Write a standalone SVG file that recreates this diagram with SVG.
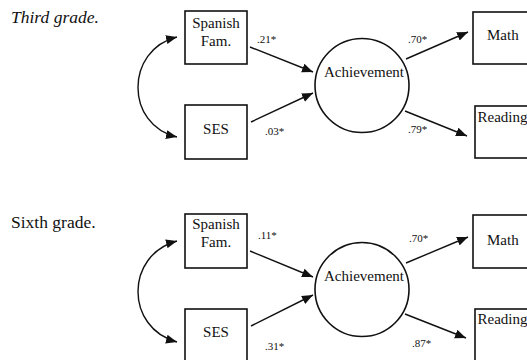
<svg xmlns="http://www.w3.org/2000/svg" width="527" height="360" viewBox="0 0 527 360">
<defs>
<marker id="ah" markerUnits="userSpaceOnUse" markerWidth="12" markerHeight="10" viewBox="0 0 12 10" refX="11" refY="5" orient="auto-start-reverse">
<path d="M0,0.5 L11,5 L0,9.5 z" fill="#111"/>
</marker>
</defs>
<style>
.box{fill:#fff;stroke:#111;stroke-width:1.6}
.lat{fill:#fff;stroke:#111;stroke-width:1.6}
.t{font-family:"Liberation Serif","Times New Roman",serif;font-size:15px;fill:#111}
.lb{font-family:"Liberation Serif","Times New Roman",serif;font-size:11px;fill:#111}
.title{font-family:"Liberation Serif","Times New Roman",serif;font-size:17.5px;fill:#111}
.c{text-anchor:middle}
.ln{fill:none;stroke:#111;stroke-width:1.4}
</style>
<rect width="527" height="360" fill="#fff"/>
<text class="title" x="11" y="23" font-style="italic">Third grade.</text>
<text class="title" x="11" y="228">Sixth grade.</text>

<g id="connectors">
<path class="ln" d="M177,37 C125,50 125,125 177,137" marker-start="url(#ah)" marker-end="url(#ah)"/>
<path class="ln" d="M250,47 L313,72" marker-end="url(#ah)"/>
<path class="ln" d="M251,122 L313,93" marker-end="url(#ah)"/>
<path class="ln" d="M406,59 L468,32" marker-end="url(#ah)"/>
<path class="ln" d="M405,111 L467,136" marker-end="url(#ah)"/>
<path class="ln" d="M177,241 C125,255 125,328 177,342" marker-start="url(#ah)" marker-end="url(#ah)"/>
<path class="ln" d="M250,251 L313,277" marker-end="url(#ah)"/>
<path class="ln" d="M251,326 L313,295" marker-end="url(#ah)"/>
<path class="ln" d="M406,263 L468,237" marker-end="url(#ah)"/>
<path class="ln" d="M405,314 L466,338" marker-end="url(#ah)"/>
<text class="lb" x="257" y="43">.21*</text>
<text class="lb" x="265" y="135">.03*</text>
<text class="lb" x="408" y="43">.70*</text>
<text class="lb" x="408" y="133">.79*</text>
<text class="lb" x="258" y="239">.11*</text>
<text class="lb" x="265" y="350">.31*</text>
<text class="lb" x="409" y="242">.70*</text>
<text class="lb" x="412" y="347">.87*</text>
</g>

<g id="spanish3">
<rect class="box" x="185" y="11" width="62" height="53"/>
<text class="t c" x="216" y="28">Spanish</text>
<text class="t c" x="216" y="46">Fam.</text>
</g>
<g id="ses3">
<rect class="box" x="185" y="105" width="62" height="54"/>
<text class="t c" x="216" y="134">SES</text>
</g>
<g id="achievement3">
<circle class="lat" cx="362" cy="85.5" r="47"/>
<text class="t c" x="364" y="77">Achievement</text>
</g>
<g id="math3">
<rect class="box" x="473" y="12" width="70" height="52"/>
<text class="t" x="487" y="40">Math</text>
</g>
<g id="reading3">
<rect class="box" x="475" y="106" width="70" height="52"/>
<text class="t" x="477.5" y="122" font-size="14.5">Reading</text>
</g>

<g id="spanish6">
<rect class="box" x="185" y="214" width="62" height="54"/>
<text class="t c" x="216" y="229">Spanish</text>
<text class="t c" x="216" y="247">Fam.</text>
</g>
<g id="ses6">
<rect class="box" x="185" y="309" width="62" height="54"/>
<text class="t c" x="216" y="337">SES</text>
</g>
<g id="achievement6">
<circle class="lat" cx="362" cy="289.5" r="47"/>
<text class="t c" x="364" y="281">Achievement</text>
</g>
<g id="math6">
<rect class="box" x="473" y="215" width="70" height="53"/>
<text class="t" x="487" y="245">Math</text>
</g>
<g id="reading6">
<rect class="box" x="475" y="309" width="70" height="60"/>
<text class="t" x="477.5" y="324" font-size="14.5">Reading</text>
</g>
</svg>
